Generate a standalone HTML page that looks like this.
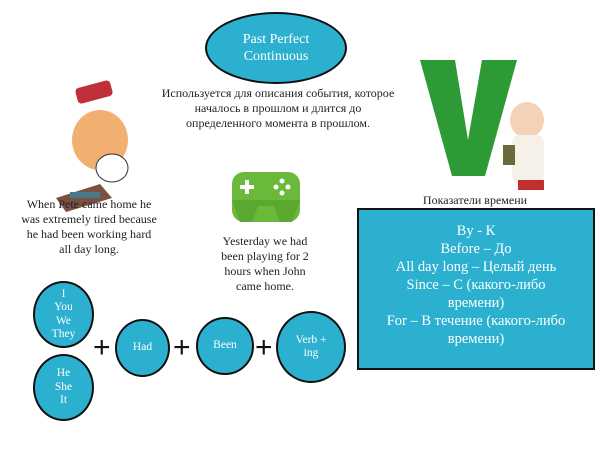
<!DOCTYPE html>
<html><head><meta charset="utf-8"><style>
body{margin:0;width:600px;height:450px;background:#fff;position:relative;overflow:hidden;font-family:"Liberation Serif","DejaVu Serif",serif;}
.t{position:absolute;text-align:center;color:#222;font-size:12px;line-height:15px;}
.c{position:absolute;border:2px solid #111;border-radius:50%;background:#2bb0d0;color:#fff;display:flex;align-items:center;justify-content:center;text-align:center;font-size:11.5px;line-height:13.5px;box-sizing:border-box;}
.p{position:absolute;font-size:30px;line-height:30px;color:#111;font-family:"Liberation Sans",sans-serif;}
</style></head><body>
<div class="c" style="left:205px;top:12px;width:142px;height:72px;font-size:14px;line-height:17px;">Past Perfect<br>Continuous</div>
<div class="t" style="left:158px;top:86px;width:240px;">Используется для описания события, которое началось в прошлом и длится до определенного момента в прошлом.</div>
<svg style="position:absolute;left:0;top:0" width="600" height="450">
<polygon points="420,60 455,60 468,140 482,60 517,60 485,176 452,176" fill="#2e9a35"/>
<rect x="232" y="172" width="68" height="50" rx="12" fill="#6ab93a"/>
<path d="M232 200 L240 222 L252 222 L258 206 L274 206 L280 222 L292 222 L300 200 Z" fill="#5aa830"/>
<rect x="240" y="185" width="14" height="4" fill="#fff"/><rect x="245" y="180" width="4" height="14" fill="#fff"/>
<circle cx="282" cy="181" r="2.5" fill="#fff"/><circle cx="282" cy="193" r="2.5" fill="#fff"/><circle cx="276" cy="187" r="2.5" fill="#fff"/><circle cx="288" cy="187" r="2.5" fill="#fff"/>
<ellipse cx="100" cy="140" rx="28" ry="30" fill="#f2b070"/>
<rect x="76" y="84" width="36" height="16" rx="4" fill="#c0303a" transform="rotate(-15 94 92)"/>
<ellipse cx="112" cy="168" rx="16" ry="14" fill="#fff" stroke="#333"/>
<polygon points="56,198 100,184 112,198 66,212" fill="#7a5040"/>
<rect x="70" y="192" width="30" height="6" fill="#4a7a8a"/>
<ellipse cx="527" cy="120" rx="17" ry="18" fill="#f4d2b8"/>
<rect x="512" y="135" width="32" height="48" rx="8" fill="#f5f0e8"/>
<rect x="503" y="145" width="12" height="20" fill="#6a6a3a"/>
<rect x="518" y="180" width="26" height="10" fill="#c03030"/>
</svg>
<div class="t" style="left:20px;top:197px;width:138px;">When Pete came home he was extremely tired because he had been working hard all day long.</div>
<div class="t" style="left:212px;top:234px;width:106px;">Yesterday we had been playing for 2 hours when John came home.</div>
<div class="t" style="left:400px;top:193px;width:150px;">Показатели времени</div>
<div style="position:absolute;left:357px;top:208px;width:238px;height:162px;box-sizing:border-box;border:2px solid #111;background:#2bb0d0;color:#fff;text-align:center;font-size:14.5px;line-height:18px;padding:12px 20px 0;">By - К<br>Before – До<br>All day long – Целый день<br>Since – С (какого-либо времени)<br>For – В течение (какого-либо времени)</div>
<div class="c" style="left:33px;top:281px;width:61px;height:67px;">I<br>You<br>We<br>They</div>
<div class="c" style="left:33px;top:354px;width:61px;height:67px;">He<br>She<br>It</div>
<div class="c" style="left:115px;top:319px;width:55px;height:58px;">Had</div>
<div class="c" style="left:196px;top:317px;width:58px;height:58px;">Been</div>
<div class="c" style="left:276px;top:311px;width:70px;height:72px;">Verb +<br>ing</div>
<div class="p" style="left:93px;top:333px;">+</div>
<div class="p" style="left:173px;top:333px;">+</div>
<div class="p" style="left:255px;top:333px;">+</div>
</body></html>
